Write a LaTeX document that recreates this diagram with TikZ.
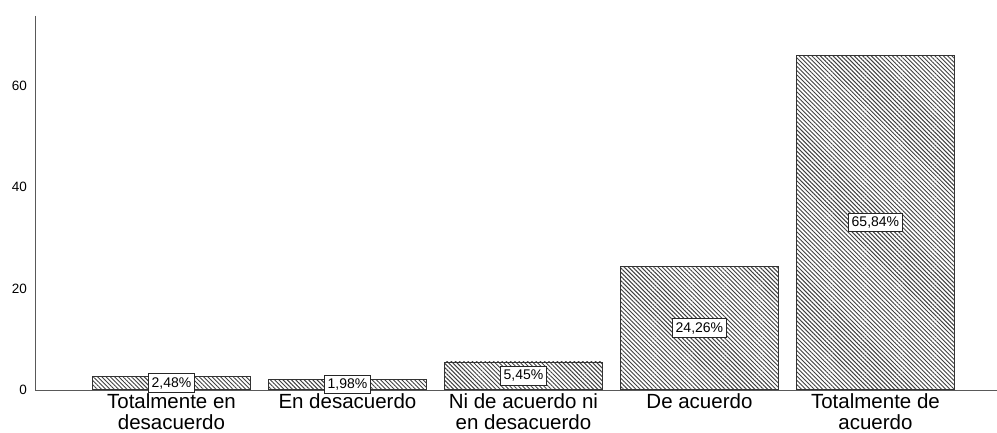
\documentclass[tikz,border=0pt]{standalone}
\usepackage{fontspec}
\setmainfont{Liberation Sans}
\usetikzlibrary{patterns.meta}
\begin{document}
\begin{tikzpicture}[x=1pt,y=1pt,
  axisline/.style={draw=black!65, line width=1pt},
  bar/.style={draw=black!80, line width=0.9pt, anchor=south west, inner sep=0pt, minimum width=158pt,
     pattern={Lines[angle=-45,distance=3pt,line width=0.95pt]}, pattern color=black!75},
  pct/.style={draw=black!85, fill=white, line width=0.9pt, inner xsep=3pt, inner ysep=3.5pt, font=\fontsize{14}{14}\selectfont},
  tick/.style={anchor=east, font=\fontsize{13.5}{14}\selectfont, inner sep=0pt},
  cat/.style={anchor=north, align=center, font=\fontsize{20.5}{21.3}\selectfont, inner sep=0pt}]
\useasboundingbox (0,0) rectangle (997,432);
% axes
\coordinate (o) at (35,42);
\coordinate (ytop) at (35,416);
\coordinate (xend) at (997,42);
% bars
\node[bar, minimum height=12.6pt] (b1) at (92,42) {};
\node[bar, minimum height=10.0pt] (b2) at (268,42) {};
\node[bar, minimum height=27.6pt] (b3) at (444,42) {};
\node[bar, minimum height=123.0pt] (b4) at (620,42) {};
\node[bar, minimum height=333.8pt] (b5) at (796,42) {};
\draw[axisline] (ytop) -- (o) -- (xend);
% percentage labels
\node[pct] (p1) at (b1.center) {2,48\%};
\node[pct] (p2) at (b2.center) {1,98\%};
\node[pct] (p3) at (b3.center) {5,45\%};
\node[pct] (p4) at (b4.center) {24,26\%};
\node[pct] (p5) at (b5.center) {65,84\%};
% ticks
\node[tick] (t0) at (27,42) {0};
\node[tick] (t20) at (27,143.3) {20};
\node[tick] (t40) at (27,244.7) {40};
\node[tick] (t60) at (27,346) {60};
% category labels
\node[cat] (c1) at ([yshift=-3pt]b1.south) {Totalmente en\\desacuerdo};
\node[cat] (c2) at ([yshift=-3pt]b2.south) {En desacuerdo};
\node[cat] (c3) at ([yshift=-3pt]b3.south) {Ni de acuerdo ni\\en desacuerdo};
\node[cat] (c4) at ([yshift=-3pt]b4.south) {De acuerdo};
\node[cat] (c5) at ([yshift=-3pt]b5.south) {Totalmente de\\acuerdo};
\end{tikzpicture}
\end{document}
